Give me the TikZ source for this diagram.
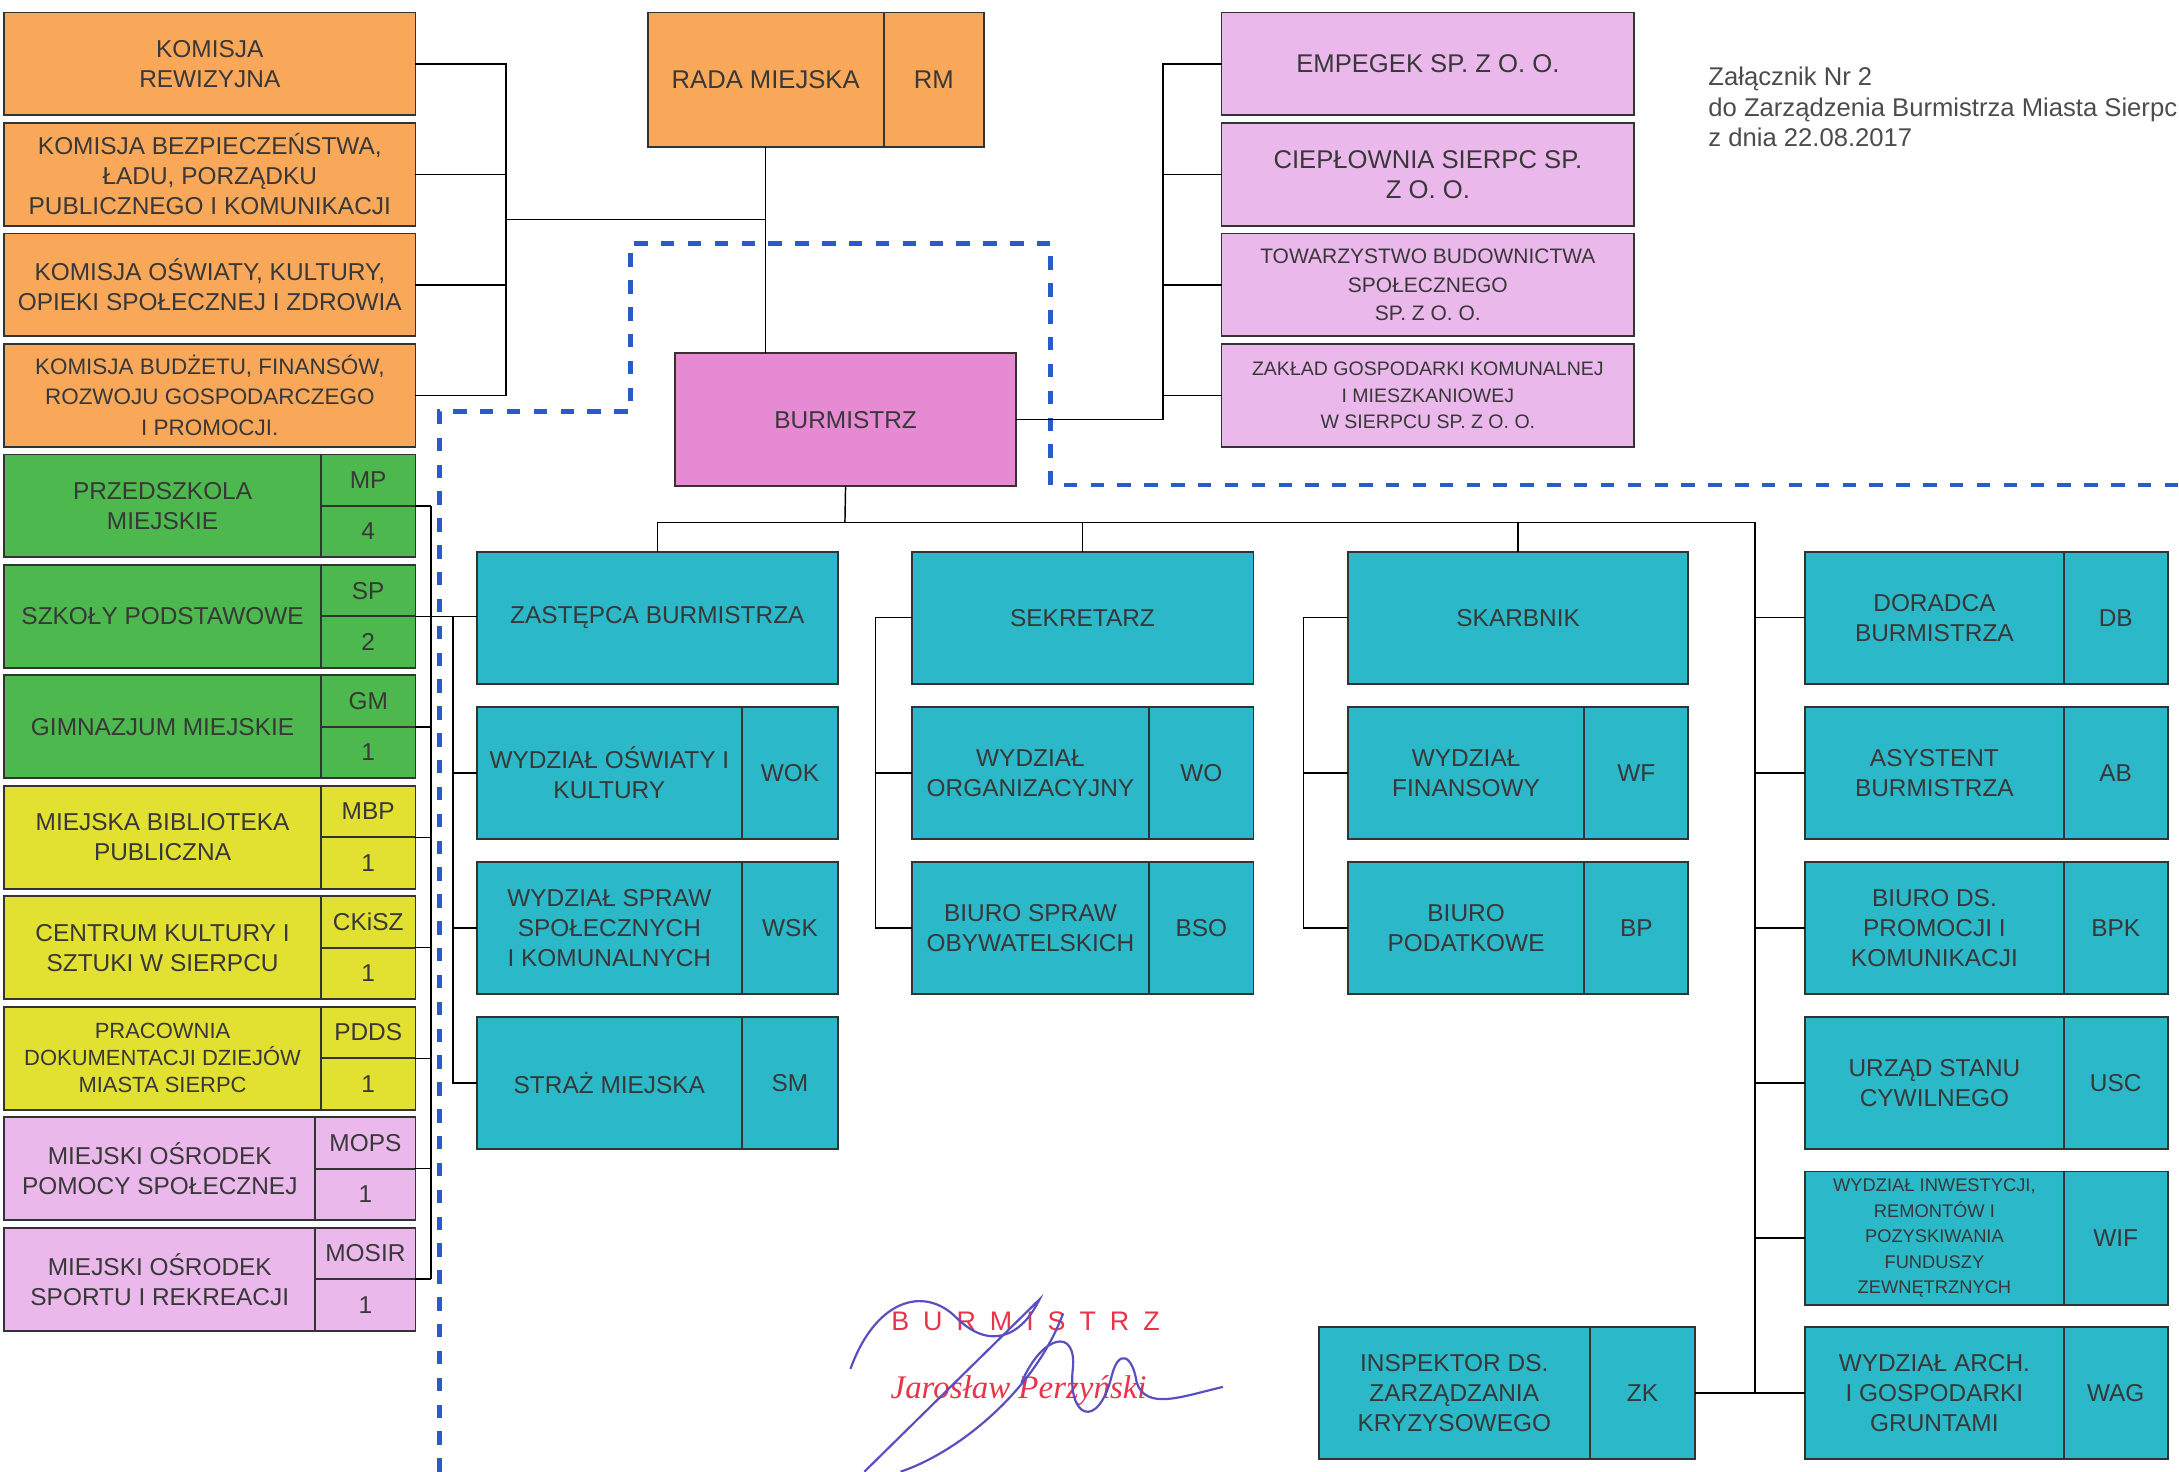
\documentclass[tikz,border=0pt]{standalone}
\usepackage{fontspec}
\setmainfont{Liberation Sans}
\newfontfamily\podpisfont{Liberation Serif}
\usetikzlibrary{positioning}

\definecolor{komisja}{HTML}{F9A85A}
\definecolor{szkoly}{HTML}{4DB84E}
\definecolor{kultura}{HTML}{E2E030}
\definecolor{spolki}{HTML}{EBB8EC}
\definecolor{burm}{HTML}{E68AD4}
\definecolor{urzad}{HTML}{2BB8C8}
\definecolor{niebieski}{HTML}{2A5BC8}
\definecolor{napis}{HTML}{383838}
\definecolor{czerwony}{HTML}{E8334A}
\definecolor{atrament}{HTML}{5A4FC0}

\begin{document}
\begin{tikzpicture}[x=0.02cm, y=-0.02cm,
 box/.style={draw=black!80, line width=0.75pt, align=center, inner sep=1pt, outer sep=0pt,
   text=napis, font=\fontsize{10}{12.3}\selectfont, anchor=north west},
 kom/.style={box, fill=komisja, minimum width=5.92cm, minimum height=1.48cm},
 spolka/.style={box, fill=spolki, minimum width=5.94cm, minimum height=1.48cm},
 wydzial/.style={box, fill=urzad, minimum height=1.9cm},
 kod/.style={box, fill=urzad, minimum height=1.9cm, minimum width=1.5cm},
 link/.style={draw=black, line width=0.6pt},
 ramka/.style={draw=niebieski, line width=2pt, dash pattern=on 5.5pt off 5.5pt},
 skrypt/.style={draw=atrament, line width=0.9pt}]

\useasboundingbox (0,0) rectangle (1568,1059);

\draw[ramka] (316,1059) -- (316,296) -- (454,296) -- (454,175) -- (756,175)
  -- (756,349) -- (1568,349);

% rada miejska i komisje
\node[box, fill=komisja, minimum width=3.4cm, minimum height=1.94cm,
  font=\fontsize{10.5}{12.3}\selectfont] (rada) at (466,9) {RADA MIEJSKA};
\node[box, fill=komisja, minimum width=1.44cm, minimum height=1.94cm,
  font=\fontsize{10.5}{12.3}\selectfont, right=0pt of rada] (rm) {RM};

\foreach \k/\n/\t/\f in {0/kr/{KOMISJA\\REWIZYJNA}/10,
  1/kb/{KOMISJA BEZPIECZEŃSTWA,\\ŁADU, PORZĄDKU\\PUBLICZNEGO I KOMUNIKACJI}/10,
  2/ko/{KOMISJA OŚWIATY, KULTURY,\\OPIEKI SPOŁECZNEJ I ZDROWIA}/10,
  3/kf/{KOMISJA BUDŻETU, FINANSÓW,\\ROZWOJU GOSPODARCZEGO\\I PROMOCJI.}/9.2}
  \node[kom, font=\fontsize{\f}{12.3}\selectfont] (\n) at (3,9+79.5*\k) {\t};

\coordinate (kbus) at (364,0);
\coordinate (krm) at (364,158);
\draw[link] (kr.east) -| (kf.east -| kbus) -- (kf.east);
\foreach \n in {kb,ko}
  \draw[link] (\n.east) -- (\n.east -| kbus);

\node[box, fill=burm, minimum width=4.9cm, minimum height=1.92cm] (burm) at (486,254) {BURMISTRZ};
\draw[link] (rada.south) -- (rada.south |- burm.north);
\draw[link] (krm) -- (krm -| rada.south);

% spolki miejskie
\foreach \k/\n/\t/\f/\b in {0/emp/{EMPEGEK SP. Z O. O.}/10.5/12.3,
  1/cie/{CIEPŁOWNIA SIERPC SP.\\Z O. O.}/10.5/12.3,
  2/tbs/{TOWARZYSTWO BUDOWNICTWA\\SPOŁECZNEGO\\SP. Z O. O.}/8.6/11.6,
  3/zgk/{ZAKŁAD GOSPODARKI KOMUNALNEJ\\I MIESZKANIOWEJ\\W SIERPCU SP. Z O. O.}/8/11}
  \node[spolka, font=\fontsize{\f}{\b}\selectfont] (\n) at (879,9+79.5*\k) {\t};

\coordinate (cbus) at (837,0);
\draw[link] (burm.east) -- (burm.east -| cbus) |- (emp.west);
\foreach \n in {cie,tbs,zgk}
  \draw[link] (\n.west) -- (\n.west -| cbus);

\node[anchor=north west, align=left, inner sep=0pt, text=black!70,
  font=\fontsize{10.5}{12.5}\selectfont] (zal) at (1229,48)
  {Załącznik Nr 2\\do Zarządzenia Burmistrza Miasta Sierpc\\z dnia 22.08.2017};

% jednostki organizacyjne
\foreach \k/\n/\t/\s/\m/\c/\w/\v/\f/\b in {
  4/mp/{PRZEDSZKOLA\\MIEJSKIE}/MP/4/szkoly/4.56/1.36/10/12.3,
  5/sp/{SZKOŁY PODSTAWOWE}/SP/2/szkoly/4.56/1.36/10/12.3,
  6/gm/{GIMNAZJUM MIEJSKIE}/GM/1/szkoly/4.56/1.36/10/12.3,
  7/mbp/{MIEJSKA BIBLIOTEKA\\PUBLICZNA}/MBP/1/kultura/4.56/1.36/10/12.3,
  8/ckisz/{CENTRUM KULTURY I\\SZTUKI W SIERPCU}/CKiSZ/1/kultura/4.56/1.36/10/12.3,
  9/pdds/{PRACOWNIA\\DOKUMENTACJI DZIEJÓW\\MIASTA SIERPC}/PDDS/1/kultura/4.56/1.36/9/11,
  10/mops/{MIEJSKI OŚRODEK\\POMOCY SPOŁECZNEJ}/MOPS/1/spolki/4.48/1.44/10/12.3,
  11/mosir/{MIEJSKI OŚRODEK\\SPORTU I REKREACJI}/MOSIR/1/spolki/4.48/1.44/10/12.3}{
  \node[box, fill=\c, minimum width=\w cm, minimum height=1.48cm,
    font=\fontsize{\f}{\b}\selectfont] (\n) at (3,9+79.5*\k) {\t};
  \node[box, fill=\c, minimum width=\v cm, minimum height=0.74cm] (\n-k) at (\n.north east) {\s};
  \node[box, fill=\c, minimum width=\v cm, minimum height=0.74cm, below=0pt of \n-k] (\n-l) {\m};
}

% urzad miejski
\node[wydzial, minimum width=5.2cm] (zast) at (343,397) {ZASTĘPCA BURMISTRZA};
\node[wydzial, minimum width=4.92cm] (sekr) at (656,397) {SEKRETARZ};
\node[wydzial, minimum width=4.9cm] (skarb) at (970,397) {SKARBNIK};

\foreach \x/\k/\n/\t/\s/\w/\v in {343/1/wok/{WYDZIAŁ OŚWIATY I\\KULTURY}/WOK/3.82/1.38,
  343/2/wsk/{WYDZIAŁ SPRAW\\SPOŁECZNYCH\\I KOMUNALNYCH}/WSK/3.82/1.38,
  343/3/sm/{STRAŻ MIEJSKA}/SM/3.82/1.38,
  656/1/wo/{WYDZIAŁ\\ORGANIZACYJNY}/WO/3.42/1.5,
  656/2/bso/{BIURO SPRAW\\OBYWATELSKICH}/BSO/3.42/1.5,
  970/1/wf/{WYDZIAŁ\\FINANSOWY}/WF/3.4/1.5,
  970/2/bp/{BIURO\\PODATKOWE}/BP/3.4/1.5,
  1299/0/db/{DORADCA\\BURMISTRZA}/DB/3.72/1.5,
  1299/1/ab/{ASYSTENT\\BURMISTRZA}/AB/3.72/1.5,
  1299/2/bpk/{BIURO DS.\\PROMOCJI I\\KOMUNIKACJI}/BPK/3.72/1.5,
  1299/3/usc/{URZĄD STANU\\CYWILNEGO}/USC/3.72/1.5,
  1299/5/wag/{WYDZIAŁ ARCH.\\I GOSPODARKI\\GRUNTAMI}/WAG/3.72/1.5,
  949/5/zk/{INSPEKTOR DS.\\ZARZĄDZANIA\\KRYZYSOWEGO}/ZK/3.9/1.52}{
  \node[wydzial, minimum width=\w cm] (\n) at (\x,397+111.6*\k) {\t};
  \node[kod, minimum width=\v cm, right=0pt of \n] (\n-k) {\s};
}
\node[wydzial, minimum width=3.72cm, minimum height=1.92cm, inner sep=0pt,
  font=\fontsize{7.5}{10.4}\selectfont] (wif) at (1299,843)
  {WYDZIAŁ INWESTYCJI,\\REMONTÓW I\\POZYSKIWANIA\\FUNDUSZY\\ZEWNĘTRZNYCH};
\node[kod, minimum height=1.92cm, right=0pt of wif] (wif-k) {WIF};

\coordinate (hbus) at (608,376);
\coordinate (wr) at (1263,376);
\draw[link] (burm.south) -- (hbus);
\draw[link] (zast.north) |- (wr) |- (wag.west);
\foreach \n in {sekr,skarb}
  \draw[link] (\n.north) -- (\n.north |- wr);
\foreach \n in {db,ab,bpk,usc,wif}
  \draw[link] (\n.west) -- (\n.west -| wr);
\draw[link] (zk-k.east) -- (wag.west);

\coordinate (b2) at (630,0);
\coordinate (b3) at (938,0);
\draw[link] (sekr.west) -| (bso.west -| b2) -- (bso.west);
\draw[link] (wo.west) -- (wo.west -| b2);
\draw[link] (skarb.west) -| (bp.west -| b3) -- (bp.west);
\draw[link] (wf.west) -- (wf.west -| b3);

\coordinate (jbus) at (310,0);
\coordinate (zbus) at (326,0);
\foreach \n in {mp,sp,gm,mbp,ckisz,pdds,mops,mosir}
  \draw[link] (\n-k.south east) -- (\n-k.south east -| jbus);
\draw[link] (mp-k.south east -| jbus) -- (mosir-k.south east -| jbus);
\draw[link] (sp-k.south east) -- (sp-k.south east -| zast.west);
\draw[link] (sp-k.south east -| zbus) |- (sm.west);
\foreach \n in {wok,wsk}
  \draw[link] (\n.west) -- (\n.west -| zbus);

% podpis
\node[text=czerwony, font=\fontsize{11}{13}\selectfont\addfontfeature{LetterSpace=52}]
  (tytul) at (738,951) {BURMISTRZ};
\node[text=czerwony, font=\fontsize{13.5}{15}\podpisfont\itshape]
  (nazwisko) at (733,1001) {Jarosław Perzyński};
\draw[skrypt] (612,985) .. controls (630,935) and (665,925) .. (688,948)
  .. controls (712,972) and (735,962) .. (748,935) -- (622,1059);
\draw[skrypt] (765,945) .. controls (745,1000) and (690,1045) .. (648,1059);
\draw[skrypt] (735,995) .. controls (750,960) and (775,955) .. (772,985)
  .. controls (768,1020) and (790,1030) .. (800,990)
  .. controls (805,970) and (815,975) .. (818,995)
  .. controls (825,1015) and (850,1005) .. (880,998);
\end{tikzpicture}
\end{document}
